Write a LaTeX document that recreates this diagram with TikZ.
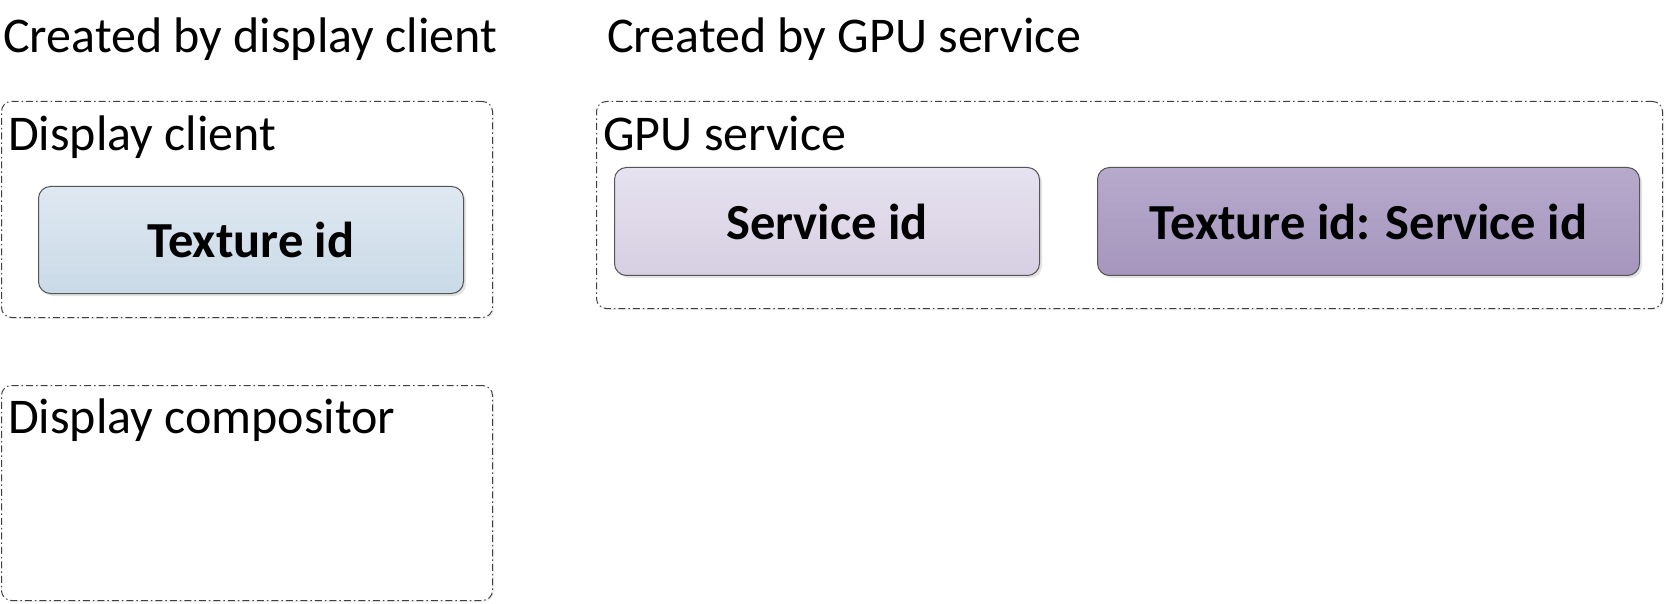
\documentclass[tikz,border=0pt]{standalone}
\usepackage{fontspec}
\setmainfont{Carlito}
\usetikzlibrary{shadows}
\definecolor{blueTop}{HTML}{DFE8F1}
\definecolor{blueBot}{HTML}{C9DAE7}
\definecolor{lilTop}{HTML}{E6E2EF}
\definecolor{lilBot}{HTML}{D7CFE2}
\definecolor{purTop}{HTML}{B6AACC}
\definecolor{purBot}{HTML}{A696BE}
\definecolor{edge}{HTML}{555555}
\begin{document}
\begin{tikzpicture}[x=1pt,y=-1pt,
  outerbox/.style={draw=black!75, line width=1pt,
    dash pattern=on 7pt off 3pt on 1.5pt off 3pt,
    rounded corners=10pt, inner sep=0pt, anchor=north west,
    drop shadow={shadow xshift=1.5pt, shadow yshift=-1.5pt, opacity=0.12}, fill=white},
  idbox/.style={draw=edge, line width=1pt, rounded corners=12pt,
    anchor=north west, inner sep=0pt,
    drop shadow={shadow xshift=2.5pt, shadow yshift=-2.5pt, opacity=0.22},
    font=\fontsize{50.5}{58}\selectfont\bfseries},
  lbl/.style={anchor=base west, inner sep=0pt, font=\fontsize{50}{58}\selectfont}]
\useasboundingbox (0,0) rectangle (1666,604);
% headings
\node[lbl] (h1) at (3,53) {Created by display client};
\node[lbl] (h2) at (607,53) {Created by GPU service};
% container boxes
\node[outerbox, minimum width=491pt, minimum height=216pt] (dc) at (1,101) {};
\node[outerbox, minimum width=1066pt, minimum height=207pt] (gpu) at (596,101) {};
\node[outerbox, minimum width=491pt, minimum height=215pt] (comp) at (1,385) {};
% container labels
\node[lbl] (dcl) at (8,151) {Display client};
\node[lbl] (gpul) at (603,151) {GPU service};
\node[lbl] (compl) at (8,433) {Display compositor};
% id boxes
\node[idbox, top color=blueTop, bottom color=blueBot,
  minimum width=425pt, minimum height=107pt] (tex) at (38,186) {Texture id};
\node[idbox, top color=lilTop, bottom color=lilBot,
  minimum width=425pt, minimum height=108pt] (sid) at (614,167) {Service id};
\node[idbox, top color=purTop, bottom color=purBot,
  minimum width=542pt, minimum height=108pt] (map) at (1097,167) {Texture id: Service id};
\end{tikzpicture}
\end{document}
